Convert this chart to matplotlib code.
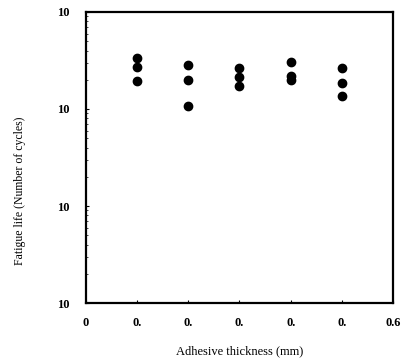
import numpy as np
import matplotlib.pyplot as plt
from matplotlib.ticker import FixedLocator, NullFormatter

# adhesive thickness (mm) and fatigue life (cycles)
thickness = [0.1, 0.2, 0.3, 0.4, 0.5]
life_a = [333000, 284000, 263000, 308000, 267000]
life_b = [269000, 199000, 215000, 219000, 184000]
life_c = [193000, 107000, 173000, 199000, 137000]

x_ticks = [0, 0.1, 0.2, 0.3, 0.4, 0.5, 0.6]
x_labels = ['0', '0.', '0.', '0.', '0.', '0.', '0.6']
y_ticks = [1e3, 1e4, 1e5, 1e6]
y_labels = ['10', '10', '10', '10']

plt.rcParams['font.family'] = ['Liberation Serif', 'DejaVu Serif']

fig = plt.figure(figsize=(4.01, 3.6), dpi=100)
ax = fig.add_axes([0.2145, 0.1583, 0.7655, 0.8084])

for life in (life_a, life_b, life_c):
    ax.plot(thickness, life, 'o', color='black', markersize=6, linestyle='none')

ax.set_yscale('log')
ax.set_xlim(0, 0.6)
ax.set_ylim(1e3, 1e6)

ax.set_xticks(x_ticks)
ax.set_xticklabels(x_labels, fontweight='bold')
ax.yaxis.set_major_locator(FixedLocator(y_ticks))
ax.set_yticklabels(y_labels, fontweight='bold')
ax.yaxis.set_minor_formatter(NullFormatter())

ax.tick_params(axis='both', which='major', direction='in', length=2.5, width=0.8,
               labelsize=9)
ax.tick_params(axis='x', which='major', pad=10)
ax.tick_params(axis='y', which='major', pad=12)
ax.tick_params(axis='y', which='minor', direction='in', length=1.2, width=0.5)

for s in ax.spines.values():
    s.set_linewidth(1.6)

ax.set_xlabel('Adhesive thickness (mm)', fontsize=9, labelpad=12)
fig.text(0.05, 1 - 191 / 360, 'Fatigue life (Number of cycles)', rotation=90,
         fontsize=8.5, ha='center', va='center')

fig.savefig('out.png', dpi=100)
